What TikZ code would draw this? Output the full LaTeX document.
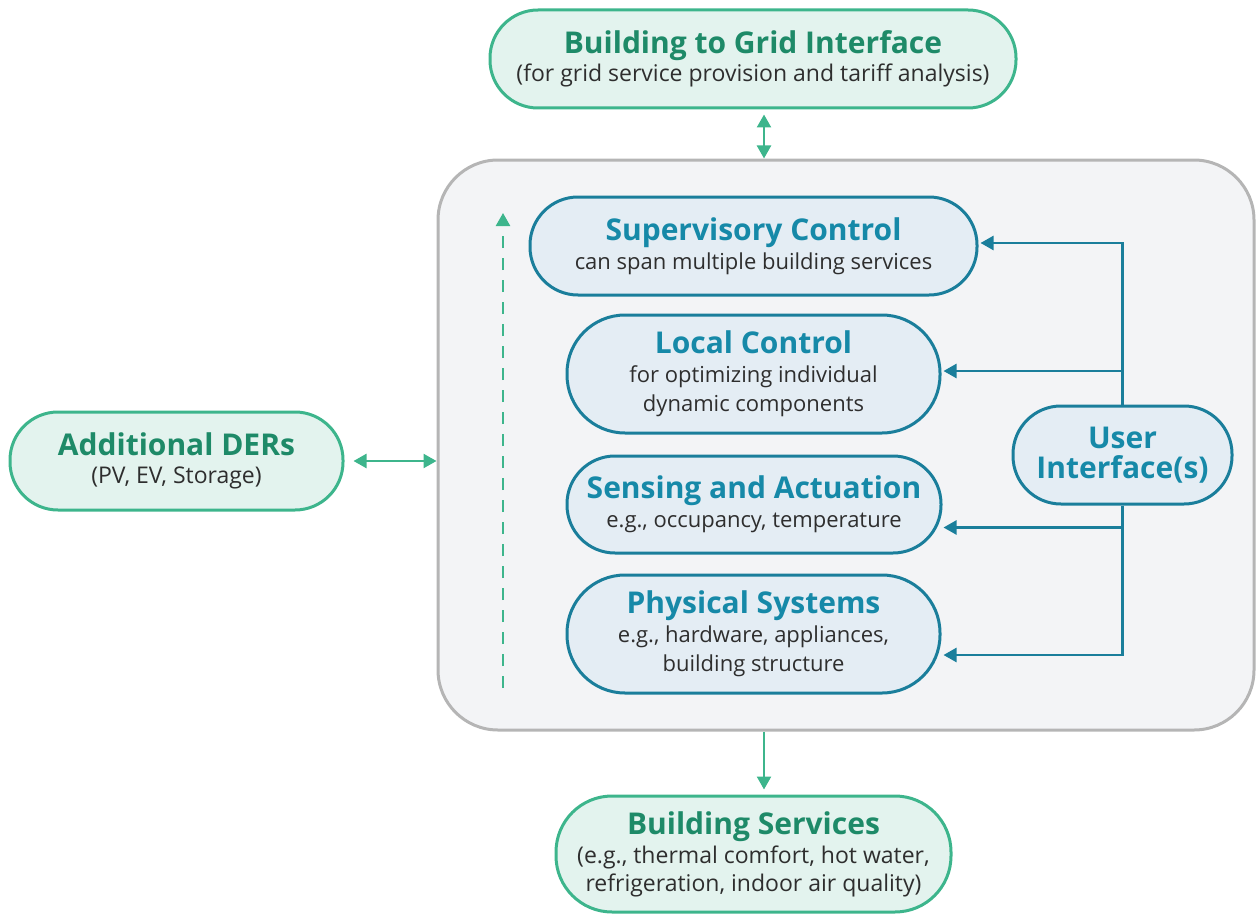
\documentclass[tikz,border=0pt]{standalone}
\usepackage{fontspec}
\setmainfont{Open Sans}
\usetikzlibrary{arrows.meta,calc}
\definecolor{gborder}{HTML}{3DB58C}
\definecolor{gfill}{HTML}{E3F3EE}
\definecolor{gtext}{HTML}{1E8A68}
\definecolor{bborder}{HTML}{1A7E9B}
\definecolor{bfill}{HTML}{E4EDF4}
\definecolor{btext}{HTML}{1689A8}
\definecolor{bodytext}{HTML}{2E2E2E}
\definecolor{cfill}{HTML}{F3F4F6}
\definecolor{cborder}{HTML}{B5B5B5}
\newcommand{\gtitle}[1]{{\fontsize{15}{16}\selectfont\bfseries\color{gtext}#1}}
\newcommand{\btitle}[1]{{\fontsize{15}{16}\selectfont\bfseries\color{btext}#1}}
\tikzset{
  pill/.style={rectangle, rounded corners=#1, align=center, inner sep=0pt,
    text=bodytext},
  gbox/.style={pill=#1, draw=gborder, fill=gfill, line width=1.5pt,
    font=\fontsize{11.5}{14}\selectfont},
  bbox/.style={pill=#1, draw=bborder, fill=bfill, line width=1.5pt,
    font=\fontsize{11}{14.5}\selectfont},
  garrow/.style={draw=gborder, line width=1.2pt, -{Triangle[length=6.5pt,width=7pt]}},
  gdarrow/.style={draw=gborder, line width=1.2pt, {Triangle[length=6.5pt,width=7pt]}-{Triangle[length=6.5pt,width=7pt]}},
  barrow/.style={draw=bborder, line width=1.2pt, -{Triangle[length=6.5pt,width=7pt]}},
}
\begin{document}
\begin{tikzpicture}[x=0.5pt,y=-0.5pt]
\useasboundingbox (0,0) rectangle (1258,915);
% container
\node[draw=cborder, fill=cfill, line width=1.5pt, rectangle, rounded corners=30pt,
  minimum width=408pt, minimum height=285pt, inner sep=0pt] (bldg) at (846,445) {};
% outer green boxes
\node[gbox=24pt, minimum width=263pt, minimum height=49pt] (grid) at (753,59)
  {\gtitle{Building to Grid Interface}\\(for grid service provision and tariff analysis)};
\node[gbox=24pt, minimum width=166.5pt, minimum height=49pt] (der) at (176.5,461)
  {\gtitle{Additional DERs}\\(PV, EV, Storage)};
\node[gbox=28pt, minimum width=197.5pt, minimum height=58pt] (serv) at (753.5,854)
  {\gtitle{Building Services}\\[0.5pt](e.g., thermal comfort, hot water,\\refrigeration, indoor air quality)};
% inner blue boxes
\node[bbox=24pt, minimum width=223.5pt, minimum height=49pt] (sup) at (753.5,246)
  {\btitle{Supervisory Control}\\can span multiple building services};
\node[bbox=29pt, minimum width=186.5pt, minimum height=59pt] (local) at (753.5,374)
  {\btitle{Local Control}\\for optimizing individual\\dynamic components};
\node[bbox=24pt, minimum width=187pt, minimum height=48.5pt] (sense) at (754,504.5)
  {\btitle{Sensing and Actuation}\\e.g., occupancy, temperature};
\node[bbox=29pt, minimum width=186.5pt, minimum height=59pt] (phys) at (753.5,634)
  {\btitle{Physical Systems}\\e.g., hardware, appliances,\\building structure};
\node[bbox=24pt, minimum width=109.5pt, minimum height=49pt,
  font=\fontsize{15}{15}\selectfont\bfseries, text=btext] (ui) at (1122.5,455)
  {User\\Interface(s)};
% green connectors
\coordinate (gx) at (764,0);
\draw[gdarrow, shorten <=2.5pt] (grid.south -| gx) -- (bldg.north -| gx);
\draw[gdarrow, shorten <=4.5pt] (der.east) -- (bldg.west |- der.east);
\draw[garrow, shorten >=2.5pt] (bldg.south -| gx) -- (serv.north -| gx);
% dashed upward arrow
\coordinate (dbot) at (503,688);
\coordinate (dtop) at (503,213);
\draw[garrow, dash pattern=on 6pt off 5pt] (dbot) -- (dtop);
% user interface connectors
\draw[barrow, shorten >=1pt] (ui.north) |- ([yshift=1.5pt]sup.east);
\draw[barrow, shorten >=1pt] (ui.north) |- ([yshift=1.5pt]local.east);
\draw[barrow, shorten >=0.5pt] (ui.south) |- ([yshift=-11.5pt]sense.east);
\draw[barrow, shorten >=1pt] (ui.south) |- ([yshift=-10.5pt]phys.east);
\end{tikzpicture}
\end{document}
